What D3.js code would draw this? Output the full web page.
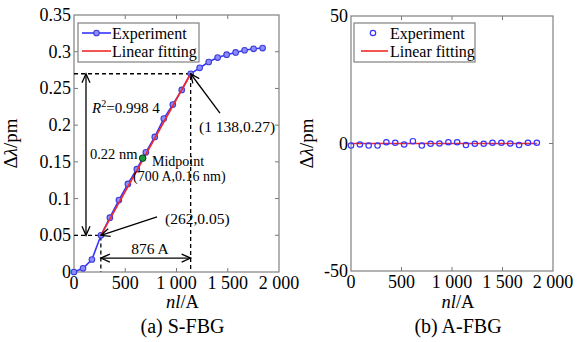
<!DOCTYPE html>
<html>
<head>
<meta charset="utf-8">
<script src="https://cdn.jsdelivr.net/npm/d3@7"></script>
<style>
  body { margin: 0; background: #fff; }
  svg { display: block; font-family: "Liberation Serif", "Times New Roman", Times, "DejaVu Serif", serif; }
</style>
</head>
<body>
<svg id="chart"></svg>
<script>
// length nl (A), shared by both gratings
const nlA = [0, 88, 175, 263, 350, 438, 526, 613, 701, 788, 876, 964, 1051, 1138, 1226, 1314, 1401, 1489, 1577, 1664, 1752, 1840];
// (a) S-FBG wavelength shift
const sfbgShift = [0, 0.005, 0.017, 0.05, 0.074, 0.098, 0.12, 0.14, 0.163, 0.184, 0.209, 0.228, 0.248, 0.27, 0.278, 0.286, 0.292, 0.296, 0.299, 0.302, 0.304, 0.305];
const sfbgFitX = [262, 1138];
const sfbgFitY = [0.05, 0.27];
const midpoint = [670, 0.155];
// (b) A-FBG wavelength shift
const afbgShift = [-0.8, -0.4, -0.8, -0.8, 0.5, 0.3, -0.4, 0.9, -0.8, -0.1, 0, 0.5, 0.5, -0.6, -0.1, -0.1, 0.3, 0.3, 0, -0.6, 0.3, 0.3];
const afbgFitX = [0, 1840];
const afbgFitY = [0, 0];

const xTicks = [0, 500, 1000, 1500, 2000];
const xTickLabels = ['0', '500', '1 000', '1 500', '2 000'];
const yTicksA = [0, 0.05, 0.1, 0.15, 0.2, 0.25, 0.3, 0.35];
const yTickLabelsA = ['0', '0.05', '0.1', '0.15', '0.2', '0.25', '0.3', '0.35'];
const yTicksB = [-50, 0, 50];
const yTickLabelsB = ['-50', '0', '50'];

const BLUE = '#3535ff';
const RED = '#f02828';

const svg = d3.select('#chart').attr('width', 578).attr('height', 342);

const defs = svg.append('defs');
function arrowMarker(id, orient) {
    defs.append('marker')
        .attr('id', id)
        .attr('viewBox', '-10 -5 12 10')
        .attr('refX', 0).attr('refY', 0)
        .attr('markerWidth', 12).attr('markerHeight', 10)
        .attr('markerUnits', 'userSpaceOnUse')
        .attr('orient', orient)
        .append('path')
        .attr('d', 'M-9,-4 L0,0 L-9,4')
        .attr('fill', 'none')
        .attr('stroke', '#000')
        .attr('stroke-width', 1.3);
}
arrowMarker('head', 'auto');
arrowMarker('tail', 'auto-start-reverse');

function panel(cfg) {
    const x = d3.scaleLinear().domain([0, 2000]).range([cfg.left, cfg.right]);
    const y = d3.scaleLinear().domain(cfg.ydomain).range([cfg.bottom, cfg.top]);
    const g = svg.append('g');

    // inward ticks on all four sides
    const tick = 4;
    const xi = xTicks.slice(1, -1);
    const yi = cfg.yticks.slice(1, -1);
    g.selectAll('.tb').data(xi).join('line')
        .attr('x1', d => x(d)).attr('x2', d => x(d))
        .attr('y1', cfg.bottom).attr('y2', cfg.bottom - tick)
        .attr('stroke', '#777');
    g.selectAll('.tt').data(xi).join('line')
        .attr('x1', d => x(d)).attr('x2', d => x(d))
        .attr('y1', cfg.top).attr('y2', cfg.top + tick)
        .attr('stroke', '#777');
    g.selectAll('.tl').data(yi).join('line')
        .attr('x1', cfg.left).attr('x2', cfg.left + tick)
        .attr('y1', d => y(d)).attr('y2', d => y(d))
        .attr('stroke', '#777');
    g.selectAll('.tr').data(yi).join('line')
        .attr('x1', cfg.right).attr('x2', cfg.right - tick)
        .attr('y1', d => y(d)).attr('y2', d => y(d))
        .attr('stroke', '#777');

    g.append('rect')
        .attr('x', cfg.left).attr('y', cfg.top)
        .attr('width', cfg.right - cfg.left).attr('height', cfg.bottom - cfg.top)
        .attr('fill', 'none').attr('stroke', '#808080').attr('stroke-width', 1.2);

    // tick labels
    g.selectAll('.xl').data(xTicks).join('text')
        .attr('x', d => x(d)).attr('y', cfg.bottom + 17)
        .attr('text-anchor', 'middle')
        .attr('font-size', 18)
        .text((d, i) => xTickLabels[i]);
    g.selectAll('.yl').data(cfg.yticks).join('text')
        .attr('x', cfg.left - 3).attr('y', d => y(d) + 6)
        .attr('text-anchor', 'end')
        .attr('font-size', 18)
        .text((d, i) => cfg.ylabels[i]);

    // axis titles
    const yl = g.append('text')
        .attr('transform', `translate(${cfg.ylabelX}, ${(cfg.top + cfg.bottom) / 2}) rotate(-90)`)
        .attr('text-anchor', 'middle')
        .attr('font-size', 19);
    yl.append('tspan').text('Δ');
    yl.append('tspan').attr('font-style', 'italic').text('λ');
    yl.append('tspan').text('/pm');

    const cx = (cfg.left + cfg.right) / 2 + 6;
    const xl = g.append('text')
        .attr('x', cx).attr('y', 308)
        .attr('text-anchor', 'middle')
        .attr('font-size', 18.5);
    xl.append('tspan').attr('font-style', 'italic').text('nl');
    xl.append('tspan').text('/A');

    g.append('text')
        .attr('x', cx).attr('y', 333)
        .attr('text-anchor', 'middle')
        .attr('font-size', 20)
        .text(cfg.title);

    return { g, x, y };
}

// ---------- (a) S-FBG ----------
const A = panel({
    left: 74, right: 279, top: 15, bottom: 272,
    ydomain: [0, 0.35], yticks: yTicksA, ylabels: yTickLabelsA,
    ylabelX: 17, title: '(a) S-FBG'
});

const dash = (g, pts) => g.append('path')
    .attr('d', d3.line()(pts))
    .attr('fill', 'none').attr('stroke', '#000')
    .attr('stroke-width', 1.3).attr('stroke-dasharray', '4,3');

dash(A.g, [[A.x(0), A.y(sfbgFitY[1])], [A.x(sfbgFitX[1]), A.y(sfbgFitY[1])], [A.x(sfbgFitX[1]), A.y(0)]]);
dash(A.g, [[A.x(0), A.y(sfbgFitY[0])], [A.x(sfbgFitX[0]), A.y(sfbgFitY[0])], [A.x(sfbgFitX[0]), A.y(0)]]);

const idx = d3.range(nlA.length);
A.g.append('path')
    .attr('d', d3.line().x(i => A.x(nlA[i])).y(i => A.y(sfbgShift[i]))(idx))
    .attr('fill', 'none').attr('stroke', BLUE).attr('stroke-width', 1.6);
A.g.selectAll('.pa').data(idx).join('circle')
    .attr('cx', i => A.x(nlA[i])).attr('cy', i => A.y(sfbgShift[i]))
    .attr('r', 2.8)
    .attr('fill', '#8c8cff').attr('stroke', '#3c3cd8').attr('stroke-width', 1.1);
A.g.append('path')
    .attr('d', d3.line()([[A.x(sfbgFitX[0]), A.y(sfbgFitY[0])], [A.x(sfbgFitX[1]), A.y(sfbgFitY[1])]]))
    .attr('stroke', RED).attr('stroke-width', 1.6);

A.g.append('circle')
    .attr('cx', A.x(midpoint[0])).attr('cy', A.y(midpoint[1]))
    .attr('r', 3.3).attr('fill', '#1a9a3a').attr('stroke', '#0a3a10').attr('stroke-width', 1);

function arrow(g, p, q, both) {
    g.append('line')
        .attr('x1', p[0]).attr('y1', p[1]).attr('x2', q[0]).attr('y2', q[1])
        .attr('stroke', '#000').attr('stroke-width', 1.3)
        .attr('marker-end', 'url(#head)')
        .attr('marker-start', both ? 'url(#tail)' : null);
}
arrow(A.g, [A.x(117), A.y(0.27)], [A.x(117), A.y(0.05)], true);
arrow(A.g, [A.x(262), A.y(0.019)], [A.x(1138), A.y(0.019)], true);
arrow(A.g, [A.x(1424), A.y(0.2165)], [A.x(1138), A.y(0.27)], false);
arrow(A.g, [A.x(810), A.y(0.075)], [A.x(262), A.y(0.05)], false);

const note = (g, x, y, s, size, anchor) => g.append('text')
    .attr('x', x).attr('y', y)
    .attr('font-size', size || 15)
    .attr('text-anchor', anchor || 'start')
    .text(s);

const r2 = note(A.g, A.x(176), A.y(0.2165), '', 15);
r2.append('tspan').attr('font-style', 'italic').text('R');
r2.append('tspan').attr('font-size', 10).attr('dy', -6).text('2');
r2.append('tspan').attr('dy', 6).text('=0.998 4');
note(A.g, A.x(156), A.y(0.154), '0.22 nm', 14.5);
note(A.g, A.x(761), A.y(0.145), 'Midpoint', 14);
note(A.g, A.x(576), A.y(0.124), '(700 A,0.16 nm)', 14);
note(A.g, A.x(1220), A.y(0.1905), '(1 138,0.27)', 15.5);
note(A.g, A.x(888), A.y(0.066), '(262,0.05)', 15.5);
note(A.g, A.x(741), A.y(0.024), '876 A', 15.5, 'middle');

// legend (a)
const la = A.g.append('g');
la.append('rect').attr('x', 78).attr('y', 23).attr('width', 121).attr('height', 39)
    .attr('fill', '#fff').attr('stroke', '#808080').attr('stroke-width', 1.2);
la.append('line').attr('x1', 82).attr('x2', 111).attr('y1', 33).attr('y2', 33)
    .attr('stroke', BLUE).attr('stroke-width', 1.6);
la.append('circle').attr('cx', 96.5).attr('cy', 33).attr('r', 2.8)
    .attr('fill', '#8c8cff').attr('stroke', '#3c3cd8').attr('stroke-width', 1.1);
la.append('line').attr('x1', 82).attr('x2', 111).attr('y1', 51).attr('y2', 51)
    .attr('stroke', RED).attr('stroke-width', 1.6);
note(la, 112, 38.5, 'Experiment', 16);
note(la, 112, 56.5, 'Linear fitting', 16);

// ---------- (b) A-FBG ----------
const B = panel({
    left: 351, right: 553, top: 16, bottom: 271,
    ydomain: [-50, 50], yticks: yTicksB, ylabels: yTickLabelsB,
    ylabelX: 313, title: '(b) A-FBG'
});

B.g.append('path')
    .attr('d', d3.line()([[B.x(afbgFitX[0]), B.y(afbgFitY[0])], [B.x(afbgFitX[1]), B.y(afbgFitY[1])]]))
    .attr('stroke', RED).attr('stroke-width', 1.6);
B.g.selectAll('.pb').data(idx).join('circle')
    .attr('cx', i => B.x(nlA[i])).attr('cy', i => B.y(afbgShift[i]))
    .attr('r', 2.7)
    .attr('fill', 'none').attr('stroke', BLUE).attr('stroke-width', 1.2);

const lb = B.g.append('g');
lb.append('rect').attr('x', 354).attr('y', 23).attr('width', 121).attr('height', 39)
    .attr('fill', '#fff').attr('stroke', '#808080').attr('stroke-width', 1.2);
lb.append('circle').attr('cx', 373).attr('cy', 33).attr('r', 2.7)
    .attr('fill', 'none').attr('stroke', BLUE).attr('stroke-width', 1.2);
lb.append('line').attr('x1', 361).attr('x2', 388).attr('y1', 51).attr('y2', 51)
    .attr('stroke', RED).attr('stroke-width', 1.6);
note(lb, 390, 38.5, 'Experiment', 16);
note(lb, 390, 56.5, 'Linear fitting', 16);
</script>
</body>
</html>
